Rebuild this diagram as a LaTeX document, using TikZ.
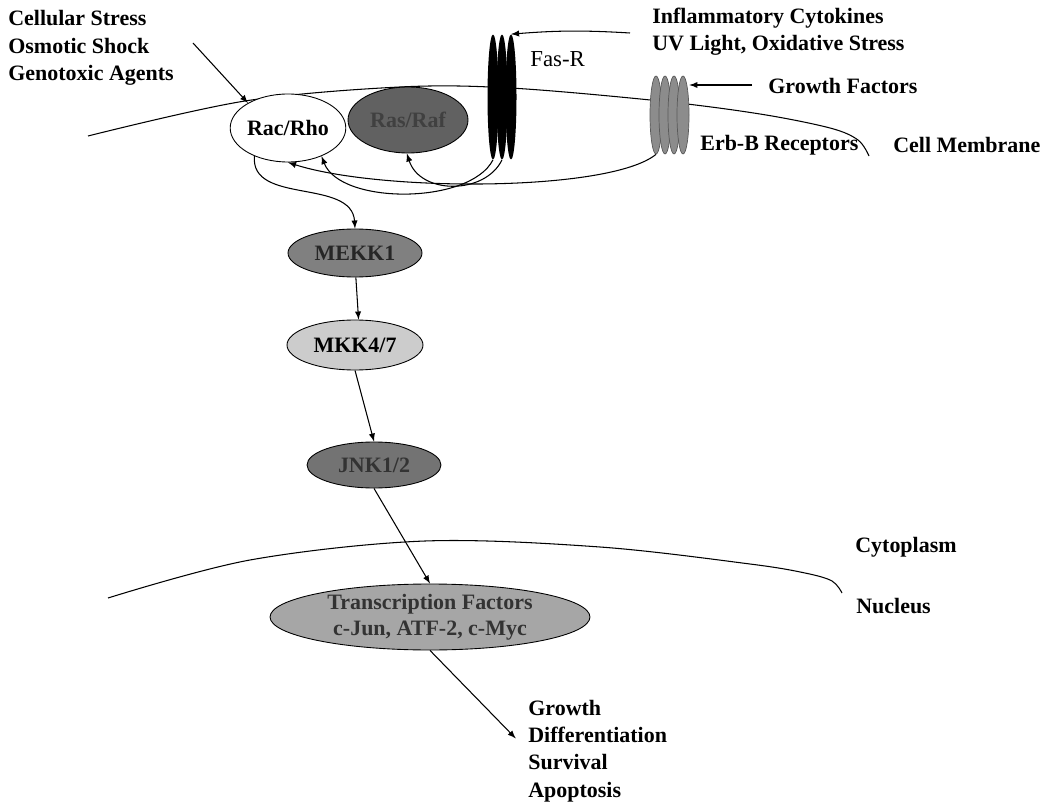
\documentclass[tikz,border=0pt]{standalone}
\usepackage{fontspec}
\setmainfont{Liberation Serif}
\usetikzlibrary{shapes.geometric, positioning, arrows}

\tikzset{
  lbl/.style={font=\fontsize{12.5}{15.5}\selectfont\bfseries, align=left, inner sep=0pt, anchor=west},
  prot/.style={ellipse, draw, line width=0.5pt, inner sep=0pt, font=\fontsize{12.5}{15}\selectfont\bfseries},
  fasr/.style={ellipse, fill=black, minimum width=0.22cm, minimum height=2.5cm, inner sep=0pt},
  erbb/.style={ellipse, draw=black!65, fill=black!45, minimum width=0.24cm, minimum height=1.56cm, inner sep=0pt},
  arr/.style={-latex, line width=0.6pt},
  memb/.style={line width=0.6pt},
}

\begin{document}
\begin{tikzpicture}[x=0.02cm, y=-0.02cm]
\useasboundingbox (0,0) rectangle (1051,807);

% membranes
\draw[memb] plot[smooth, tension=0.55] coordinates {(88,136) (245,101) (400,87) (510,88) (660,101) (760,114) (830,128) (858,140) (869,156)};
\draw[memb] plot[smooth, tension=0.55] coordinates {(108,598) (250,560) (425,541) (600,547) (750,564) (805,573) (832,581) (842,593)};

% receptors
\foreach \i/\x in {1/493, 2/502, 3/511}
  \node[fasr] (fas\i) at (\x,97) {};
\foreach \i/\x in {1/656, 2/665, 3/674, 4/683}
  \node[erbb] (erb\i) at (\x,115) {};

% kinases
\node[prot, fill=white, minimum width=2.24cm, minimum height=1.36cm] (rac) at (288,128) {Rac/Rho};
\node[prot, fill=black!62, text=black!75, minimum width=2.4cm, minimum height=1.32cm] (ras) at (408,120) {Ras/Raf};
\node[prot, fill=black!50, text=black!85, minimum width=2.68cm, minimum height=0.96cm] (mekk) at (355,253) {MEKK1};
\node[prot, fill=black!20, minimum width=2.72cm, minimum height=1.0cm] (mkk) at (355,345) {MKK4/7};
\node[prot, fill=black!55, text=black!80, minimum width=2.68cm, minimum height=0.92cm] (jnk) at (374,465) {JNK1/2};
\node[prot, fill=black!35, text=black!80, align=center, minimum width=6.4cm, minimum height=1.32cm] (tf) at (430,617) {Transcription Factors\\c-Jun, ATF-2, c-Myc};

% labels
\node[lbl] (stress) at (8,48) {Cellular Stress\\Osmotic Shock\\Genotoxic Agents};
\node[lbl] (inflam) at (652,32) {Inflammatory Cytokines\\UV Light, Oxidative Stress};
\node[lbl, font=\fontsize{13}{15}\selectfont] (faslbl) at (530,59) {Fas-R};
\node[lbl] (gf) at (768,86) {Growth Factors};
\node[lbl] (erblbl) at (700,145) {Erb-B Receptors};
\node[lbl] (cellm) at (893,145) {Cell Membrane};
\node[lbl] (cyto) at (855,547) {Cytoplasm};
\node[lbl] (nucl) at (856,606) {Nucleus};
\node[lbl] (fate) at (528,751) {Growth\\Differentiation\\Survival\\Apoptosis};

\coordinate (stressin) at (193,43);
\coordinate (inflin) at (630,33);
\coordinate (gfin) at (752,85);

% signals
\draw[arr] (stressin) -- (rac.148);
\draw[arr] (inflin) to[bend right=4] (fas3.north);
\draw[arr] (gfin) -- (erb4.east |- gfin);
\draw[arr] (erb1.south) .. controls (610,192) and (380,192) .. (rac.-90);
\draw[arr] (fas1.south) .. controls (470,205) and (340,205) .. (rac.-40);
\draw[arr] (fas2.south) .. controls (485,195) and (420,195) .. (ras.-92);
\draw[arr] (rac.220) .. controls (250,205) and (352,178) .. (mekk.north);
\draw[arr] (mekk.-88) -- (mkk.82);
\draw[arr] (mkk.south) -- (jnk.north);
\draw[arr] (jnk.south) -- (tf.north);
\draw[arr, shorten >=10pt] (tf.south) -- (fate.west);
\end{tikzpicture}
\end{document}
